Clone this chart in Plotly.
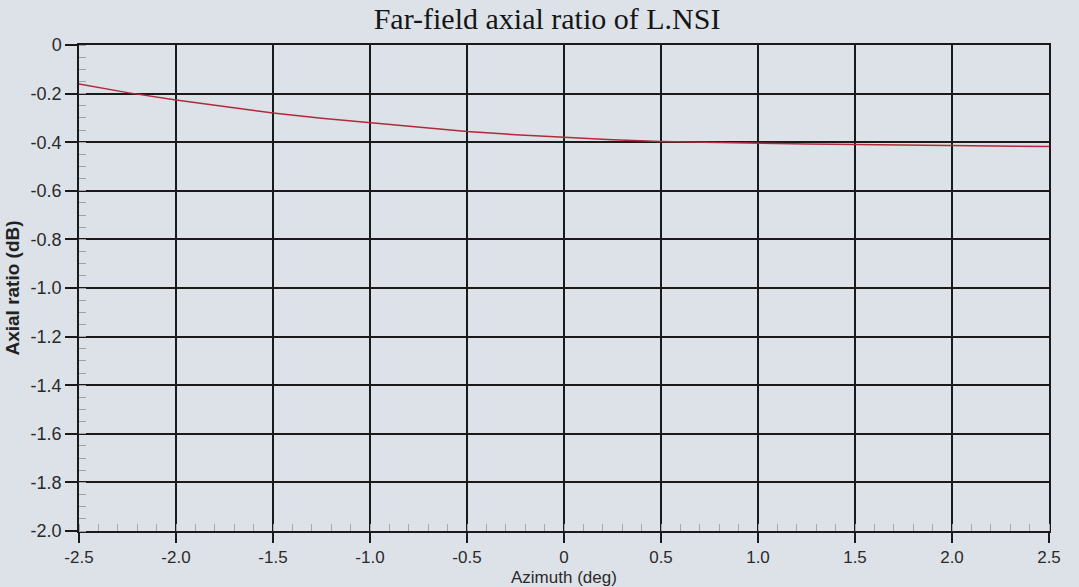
import plotly.graph_objects as go

# Data
azimuth_deg = [-2.5, -2.25, -2.0, -1.75, -1.5, -1.25, -1.0, -0.75, -0.5, -0.25, 0.0,
               0.25, 0.5, 0.75, 1.0, 1.25, 1.5, 1.75, 2.0, 2.25, 2.5]
axial_ratio_db = [-0.160, -0.196, -0.226, -0.254, -0.280, -0.301, -0.320, -0.339, -0.356,
                  -0.369, -0.380, -0.390, -0.397, -0.401, -0.404, -0.407, -0.409, -0.411,
                  -0.413, -0.415, -0.418]

x_tickvals = [-2.5, -2.0, -1.5, -1.0, -0.5, 0, 0.5, 1.0, 1.5, 2.0, 2.5]
x_ticktext = ["-2.5", "-2.0", "-1.5", "-1.0", "-0.5", "0", "0.5", "1.0", "1.5", "2.0", "2.5"]
y_tickvals = [0, -0.2, -0.4, -0.6, -0.8, -1.0, -1.2, -1.4, -1.6, -1.8, -2.0]
y_ticktext = ["0", "-0.2", "-0.4", "-0.6", "-0.8", "-1.0", "-1.2", "-1.4", "-1.6", "-1.8", "-2.0"]

bg = "#dde2e9"
ink = "#1a1a1a"

fig = go.Figure()
fig.add_trace(go.Scatter(x=azimuth_deg, y=axial_ratio_db, mode="lines",
                         line=dict(color="#b02a3a", width=1.5), showlegend=False))

fig.update_layout(
    width=1079, height=587,
    paper_bgcolor=bg, plot_bgcolor=bg,
    margin=dict(l=79, r=30, t=45, b=56),
    title=dict(text="Far-field axial ratio of L.NSI", x=0.507, xanchor="center",
               yref="container", y=0.968, yanchor="middle",
               font=dict(family="Liberation Serif", size=30, color="#151515")),
    font=dict(family="Liberation Sans", color="#222222"),
)
fig.add_annotation(text="Azimuth (deg)", xref="paper", yref="paper", x=0.5, y=0,
                   xanchor="center", yanchor="top", yshift=-35, showarrow=False,
                   font=dict(family="Liberation Sans", size=17, color="#2a2a2a"))
fig.update_xaxes(
    range=[-2.5, 2.5], tickvals=x_tickvals, ticktext=x_ticktext,
    showgrid=True, gridcolor=ink, gridwidth=1.5,
    showline=True, linecolor=ink, linewidth=1.5, mirror=True,
    ticks="outside", ticklen=10, tickcolor=ink, tickwidth=1.5,
    tickfont=dict(size=17, color="#2a2a2a"),
    minor=dict(ticks="inside", dtick=0.1, ticklen=7, tickcolor="#a4a8b0", tickwidth=1, showgrid=False),
    zeroline=False, automargin=False,
)
fig.update_yaxes(
    range=[-2.0, 0], tickvals=y_tickvals, ticktext=y_ticktext,
    showgrid=True, gridcolor=ink, gridwidth=1.5,
    showline=True, linecolor=ink, linewidth=1.5, mirror=True,
    ticks="outside", ticklen=12, tickcolor=ink, tickwidth=1.5,
    tickfont=dict(size=18, color="#2a2a2a"),
    minor=dict(ticks="inside", dtick=0.05, ticklen=7, tickcolor="#9ea2aa", tickwidth=1, showgrid=False),
    zeroline=False, automargin=False,
    title=dict(text="<b>Axial ratio (dB)</b>", font=dict(size=19, color="#222222"), standoff=6),
)

fig.write_html("out.html", config={"displayModeBar": False},
               post_script="document.body.style.margin='0';document.body.style.background='%s';" % bg)
